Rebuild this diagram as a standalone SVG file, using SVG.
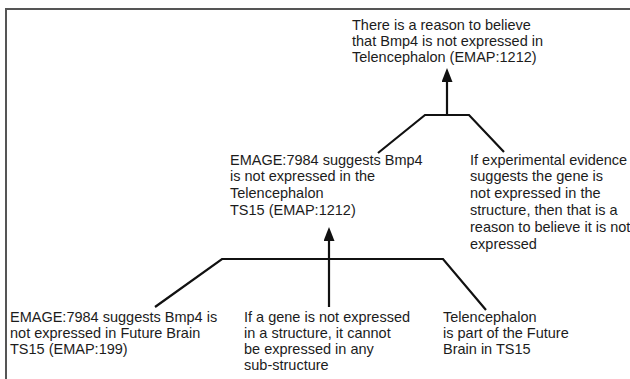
<svg xmlns="http://www.w3.org/2000/svg" width="630" height="379" viewBox="0 0 630 379">
  <style>
    .frame { fill: none; stroke: #555; stroke-width: 2; }
    .link { fill: none; stroke: #111; stroke-width: 2.2; stroke-linejoin: miter; }
    .label { font-family: "Liberation Sans", Arial, Helvetica, sans-serif; font-size: 14.5px; fill: #1c1c1c; }
  </style>
  <defs>
    <!-- solid triangular head; tip sits 4px past the path end so the shaft never pokes through -->
    <marker id="arrow" viewBox="0 0 14 11" refX="10" refY="5.5" markerWidth="14" markerHeight="11" markerUnits="userSpaceOnUse" orient="auto">
      <path d="M0,0 L14,5.5 L0,11 z" fill="#111"/>
    </marker>
  </defs>
  <rect x="0" y="0" width="630" height="379" fill="#fff"/>
  <path class="frame" d="M6,380 L6,9 L631,9"/>

  <g id="connectors">
    <!-- upper inference: two premises joined under the conclusion -->
    <path class="link" d="M378,153 L425,115 L469,115 L504,152"/>
    <path class="link" d="M447,115 L447,72" marker-end="url(#arrow)"/>
    <!-- lower inference: three premises joined under the intermediate claim -->
    <path class="link" d="M155,307 L222,259 L443,259 L486,310"/>
    <path class="link" d="M329,307 L329,231" marker-end="url(#arrow)"/>
  </g>

  <g id="conclusion">
    <text class="label" x="352" y="30">There is a reason to believe</text>
    <text class="label" x="352" y="46">that Bmp4 is not expressed in</text>
    <text class="label" x="352" y="62">Telencephalon (EMAP:1212)</text>
  </g>

  <g id="intermediate">
    <text class="label" x="230" y="164.5">EMAGE:7984 suggests Bmp4</text>
    <text class="label" x="230" y="181.3">is not expressed in the</text>
    <text class="label" x="230" y="198.1">Telencephalon</text>
    <text class="label" x="230" y="214.9">TS15 (EMAP:1212)</text>
  </g>

  <g id="rule-evidence">
    <text class="label" x="470" y="164.5">If experimental evidence</text>
    <text class="label" x="470" y="181.3">suggests the gene is</text>
    <text class="label" x="470" y="198.1">not expressed in the</text>
    <text class="label" x="470" y="214.9">structure, then that is a</text>
    <text class="label" x="470" y="231.7">reason to believe it is not</text>
    <text class="label" x="470" y="248.5">expressed</text>
  </g>

  <g id="observation">
    <text class="label" x="10" y="322">EMAGE:7984 suggests Bmp4 is</text>
    <text class="label" x="10" y="338">not expressed in Future Brain</text>
    <text class="label" x="10" y="354">TS15 (EMAP:199)</text>
  </g>

  <g id="rule-substructure">
    <text class="label" x="244" y="322">If a gene is not expressed</text>
    <text class="label" x="244" y="338">in a structure, it cannot</text>
    <text class="label" x="244" y="354">be expressed in any</text>
    <text class="label" x="244" y="370">sub-structure</text>
  </g>

  <g id="part-of">
    <text class="label" x="443" y="322">Telencephalon</text>
    <text class="label" x="443" y="338">is part of the Future</text>
    <text class="label" x="443" y="354">Brain in TS15</text>
  </g>
</svg>
